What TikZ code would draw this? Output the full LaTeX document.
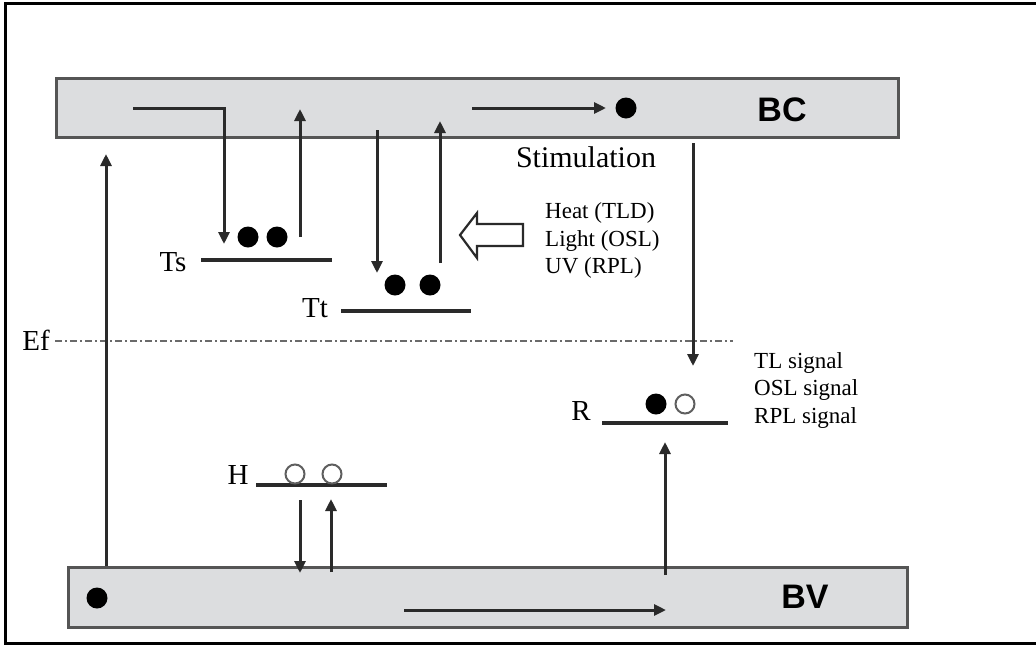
\documentclass[tikz,border=0pt]{standalone}
\usepackage{fontspec}
\setmainfont{Liberation Serif}
\newfontfamily\bandfont{Liberation Sans}
\usetikzlibrary{arrows.meta}
\definecolor{bandfill}{HTML}{DCDDDF}
\definecolor{bandedge}{HTML}{555555}
\definecolor{ink}{HTML}{2A2A2A}
\begin{document}
\begin{tikzpicture}[x=1pt,y=-1pt,
  band/.style={rectangle, fill=bandfill, draw=bandedge, line width=2.6pt, inner sep=0pt, anchor=north west},
  bandlabel/.style={font=\bandfont\bfseries\fontsize{34}{34}\selectfont, inner sep=0pt},
  level/.style={line width=3.4pt, draw=ink},
  lvlabel/.style={font=\fontsize{29}{29}\selectfont, inner sep=0pt, anchor=base},
  trans/.style={line width=3pt, draw=ink, -{Triangle[length=12pt,width=11pt]}},
  full/.style={circle, fill=black, minimum size=21pt, inner sep=0pt},
  hole/.style={circle, draw=ink!75, line width=2pt, minimum size=19pt, inner sep=0pt},
  info/.style={font=\fontsize{23}{27}\selectfont, inner sep=0pt, anchor=base west}]
\useasboundingbox (0,0) rectangle (1036,646);
\draw[line width=3pt] (1040,3) -- (5,3) -- (5,643) -- (1040,643);

% bands
\node[band, minimum width=842pt, minimum height=59pt] (BCband) at (55,77) {};
\node[band, minimum width=839pt, minimum height=60pt] (BVband) at (67,566) {};
\node[bandlabel] (BC) at (782,110) {BC};
\node[bandlabel] (BV) at (805,597) {BV};

% Fermi level
\node[lvlabel] (Ef) at (36,350) {Ef};
\coordinate (efL) at (55,341);
\coordinate (efR) at (733,341);
\draw[line width=2pt, draw=ink!70, dash pattern=on 7pt off 3pt on 2pt off 3pt] (efL) -- (efR);

% levels
\coordinate (tsL) at (201,260); \coordinate (tsR) at (332,260);
\coordinate (ttL) at (341,311); \coordinate (ttR) at (471,311);
\coordinate (rL) at (602,423);  \coordinate (rR) at (728,423);
\coordinate (hL) at (256,485);  \coordinate (hR) at (387,485);
\draw[level] (tsL) -- (tsR);
\draw[level] (ttL) -- (ttR);
\draw[level] (rL) -- (rR);
\draw[level] (hL) -- (hR);
\node[lvlabel] (Ts) at (173,271) {Ts};
\node[lvlabel] (Tt) at (315,317) {Tt};
\node[lvlabel] (R) at (581,420) {R};
\node[lvlabel] (H) at (238,484) {H};

% electrons and holes
\node[full] (ts1) at (248,237) {};
\node[full] (ts2) at (277,237) {};
\node[full] (tt1) at (395,285) {};
\node[full] (tt2) at (430,285) {};
\node[full] (bc1) at (626,108) {};
\node[full] (bv1) at (97,598) {};
\node[full] (r1) at (656,404) {};
\node[hole] (r2) at (685,404) {};
\node[hole] (h1) at (295,474) {};
\node[hole] (h2) at (332,474) {};

% transitions
\coordinate (a1s) at (133,108); \coordinate (a1c) at (224,108); \coordinate (a1e) at (224,244);
\draw[trans] (a1s) -- (a1c) -- (a1e);
\coordinate (a2s) at (300,237); \coordinate (a2e) at (300,109);
\draw[trans] (a2s) -- (a2e);
\coordinate (a3s) at (377,130); \coordinate (a3e) at (377,273);
\draw[trans] (a3s) -- (a3e);
\coordinate (a4s) at (440,263); \coordinate (a4e) at (440,121);
\draw[trans] (a4s) -- (a4e);
\coordinate (a5s) at (472,108); \coordinate (a5e) at (606,108);
\draw[trans] (a5s) -- (a5e);
\coordinate (a6s) at (106,566); \coordinate (a6e) at (106,154);
\draw[trans] (a6s) -- (a6e);
\coordinate (a7s) at (693,143); \coordinate (a7e) at (693,366);
\draw[trans] (a7s) -- (a7e);
\coordinate (a8s) at (665,575); \coordinate (a8e) at (665,442);
\draw[trans] (a8s) -- (a8e);
\coordinate (a9s) at (300,500); \coordinate (a9e) at (300,573);
\draw[trans] (a9s) -- (a9e);
\coordinate (a10s) at (331,572); \coordinate (a10e) at (331,499);
\draw[trans] (a10s) -- (a10e);
\coordinate (a11s) at (404,610); \coordinate (a11e) at (666,610);
\draw[trans] (a11s) -- (a11e);

% stimulation
\node[font=\fontsize{30}{30}\selectfont, inner sep=0pt, anchor=base] (stim) at (586,167) {Stimulation};
\draw[line width=2.2pt, draw=ink, fill=white, line join=miter]
  (523,224) -- (477,224) -- (477,213) -- (460,235) -- (477,258) -- (477,246) -- (523,246) -- cycle;
\node[info] (heat) at (545,218) {Heat (TLD)};
\node[info] (light) at (545,246) {Light (OSL)};
\node[info] (uv) at (545,273) {UV (RPL)};
\node[info] (tl) at (754,368) {TL signal};
\node[info] (osl) at (754,395) {OSL signal};
\node[info] (rpl) at (754,423) {RPL signal};
\end{tikzpicture}
\end{document}
